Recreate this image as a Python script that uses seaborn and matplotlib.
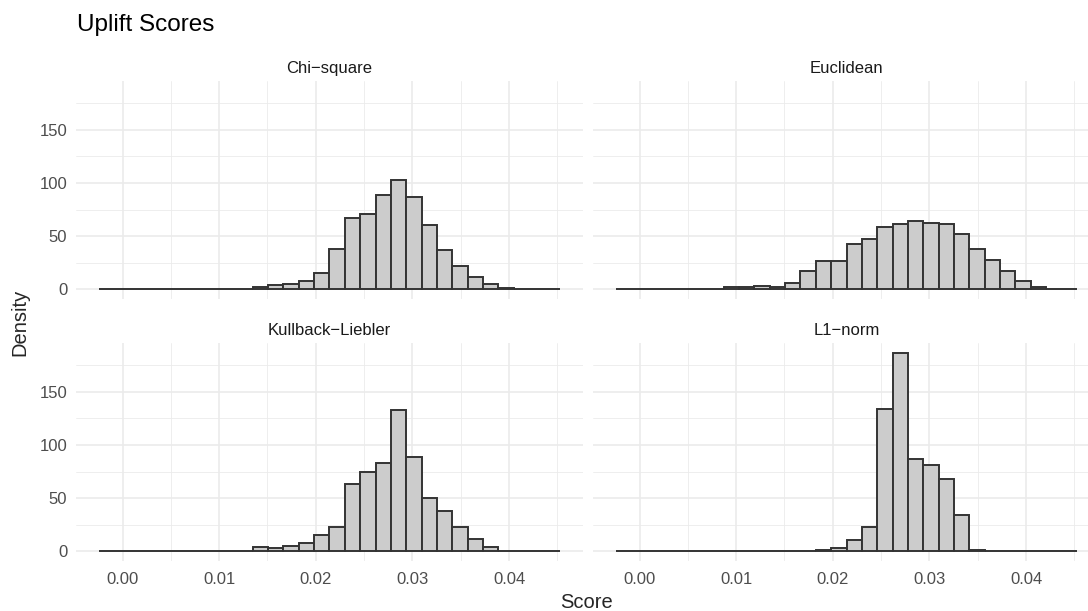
import numpy as np
import pandas as pd
import matplotlib
matplotlib.use("Agg")
import matplotlib.pyplot as plt
from matplotlib.ticker import MultipleLocator
import seaborn as sns

# bin grid (30 bins)
bin_start = -0.0024
bin_width = 0.001588
n_bins = 30

methods = ["Chi−square", "Euclidean", "Kullback−Liebler", "L1−norm"]

# density per bin
chi_square = [0.1, 0.3, 0.3, 0.4, 0.4, 0.5, 0.5, 0.5, 0.5, 0.5,
              2.5, 4.4, 5.0, 8.0, 15.3, 38.0, 67.0, 70.6, 88.8, 102.5,
              86.6, 60.3, 36.6, 22.2, 11.3, 5.0, 1.3, 0.3, 0.1, 0.1]
euclidean = [0.1, 0.1, 0.2, 0.3, 0.4, 0.5, 0.6, 2.5, 1.9, 3.4,
             2.5, 5.6, 17.5, 26.3, 26.6, 42.5, 47.5, 58.8, 61.3, 64.0,
             62.5, 61.0, 52.2, 38.4, 27.5, 16.9, 7.8, 2.5, 0.6, 0.3]
kullback = [0.1, 0.2, 0.5, 0.6, 0.4, 0.6, 0.5, 0.7, 0.5, 0.3,
            3.75, 3.4, 5.0, 8.1, 15.0, 22.5, 63.0, 75.0, 83.4, 133.0,
            89.0, 50.0, 37.8, 22.5, 11.25, 3.75, 0.6, 0.2, 0.1, 0.1]
l1_norm = [0, 0, 0, 0, 0, 0, 0, 0.1, 0.1, 0.2,
           0.3, 0.4, 0.5, 1.2, 2.8, 10.3, 23.1, 133.75, 186.25, 86.9,
           81.6, 68.4, 34.4, 0.9, 0, 0, 0, 0, 0, 0]

x_ticks = [0.00, 0.01, 0.02, 0.03, 0.04]
x_tick_labels = ["0.00", "0.01", "0.02", "0.03", "0.04"]
y_ticks = [0, 50, 100, 150]

edges = bin_start + bin_width * np.arange(n_bins + 1)
centers = (edges[:-1] + edges[1:]) / 2

rows = []
for name, vals in zip(methods, [chi_square, euclidean, kullback, l1_norm]):
    for c, v in zip(centers, vals):
        rows.append({"method": name, "score": c, "density": v})
df = pd.DataFrame(rows)

sns.set_theme(style="white")
plt.rcParams["font.family"] = ["Liberation Sans", "DejaVu Sans"]

W, H = 1088, 611
fig = plt.figure(figsize=(W / 100, H / 100), dpi=100)

# panel boxes in pixels: left, top, width, height
panel_w = 506.4
panel_h = 218
lefts = [76.3, 593.3]
tops = [81.3, 343.3]

span = edges[-1] - edges[0]
xlim = (edges[0] - 0.05 * span, edges[-1] + 0.05 * span)
ymax = df["density"].max()
ylim = (-0.05 * ymax, 1.05 * ymax)

for i, name in enumerate(methods):
    r, c = divmod(i, 2)
    ax = fig.add_axes([lefts[c] / W, 1 - (tops[r] + panel_h) / H,
                       panel_w / W, panel_h / H])
    sub = df[df["method"] == name]
    sns.histplot(data=sub, x="score", weights="density", bins=list(edges),
                 stat="count", ax=ax, color="#CCCCCC", edgecolor="#333333",
                 linewidth=1.4, alpha=1)
    ax.set_xlim(*xlim)
    ax.set_ylim(*ylim)
    ax.xaxis.set_major_locator(MultipleLocator(0.01))
    ax.xaxis.set_minor_locator(MultipleLocator(0.005))
    ax.yaxis.set_major_locator(MultipleLocator(50))
    ax.yaxis.set_minor_locator(MultipleLocator(25))
    ax.grid(True, which="major", color="#EBEBEB", linewidth=1.2)
    ax.grid(True, which="minor", color="#EBEBEB", linewidth=0.6)
    ax.set_axisbelow(True)
    for s in ax.spines.values():
        s.set_visible(False)
    ax.set_xlabel("")
    ax.set_ylabel("")
    ax.tick_params(which="both", length=0, labelsize=12, labelcolor="#4D4D4D")
    ax.tick_params(axis="y", pad=6.5)
    ax.tick_params(axis="x", pad=7.5)
    ax.set_xticks(x_ticks)
    ax.set_yticks(y_ticks)
    if r == 1:
        ax.set_xticklabels(x_tick_labels)
    else:
        ax.set_xticklabels([])
    if c == 1:
        ax.set_yticklabels([])
    ax.set_title(name, fontsize=12, color="#1A1A1A", pad=6)

fig.text(77 / W, 1 - 31.5 / H, "Uplift Scores", fontsize=17.5, color="black",
         ha="left", va="baseline")
fig.text(20 / W, 1 - 322 / H, "Density", fontsize=14.5, rotation=90,
         ha="center", va="center")
fig.text(587 / W, 1 - 603 / H, "Score", fontsize=14.5,
         ha="center", va="center")

fig.savefig("out.png", dpi=100)
